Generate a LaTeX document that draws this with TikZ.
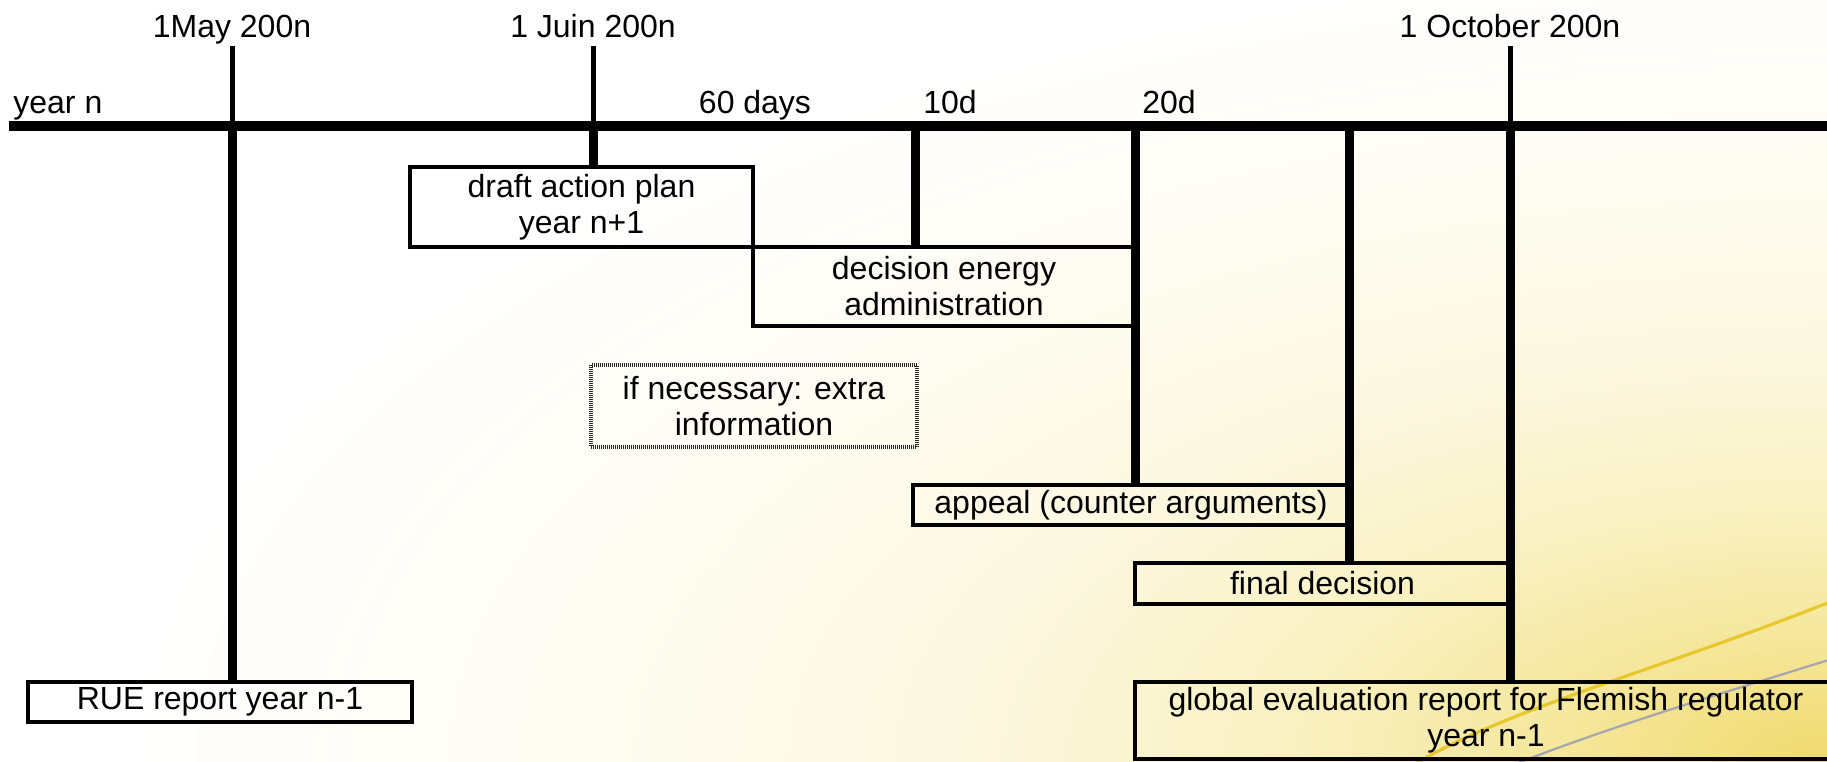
\documentclass[tikz,border=0pt]{standalone}
\usepackage{fontspec}
\setmainfont{Liberation Sans}
\definecolor{yelA}{RGB}{240,218,110}
\definecolor{yelB}{RGB}{245,231,156}
\definecolor{yelC}{RGB}{249,241,194}
\definecolor{yelD}{RGB}{252,248,226}
\definecolor{yelE}{RGB}{254,252,243}
\definecolor{swooshyel}{RGB}{232,200,45}
\definecolor{swooshgrey}{RGB}{165,165,178}
\pgfdeclareradialshading{yglow}{\pgfpoint{0bp}{0bp}}{color(0bp)=(yelA); color(4bp)=(yelB); color(8bp)=(yelC); color(13bp)=(yelD); color(19bp)=(yelE); color(25bp)=(white); color(50bp)=(white)}
\begin{document}
\begin{tikzpicture}[x=0.5pt,y=-0.5pt,
  txt/.style={font=\fontsize{16}{18}\selectfont, inner sep=0pt},
  box/.style={draw, line width=2pt, font=\fontsize{16}{18}\selectfont, align=center, inner sep=0pt},
  dotbox/.style={draw=black!85, line width=1.6pt, dash pattern=on 0.5pt off 0.5pt, font=\fontsize{16}{18}\selectfont, align=center, inner sep=0pt},
  mainline/.style={line width=5pt},
  datetick/.style={line width=2.5pt},
  stem/.style={line width=4.5pt}]
\useasboundingbox (0,0) rectangle (1827,761);
% background
\begin{scope}
\clip (0,0) rectangle (1827,761);
\fill[white] (0,0) rectangle (1827,761);
\shade[shading=yglow] (1827,761) ellipse [x radius=1700, y radius=800];
\draw[swooshyel, line width=1.6pt] (1835,600) .. controls (1660,670) and (1500,710) .. (1405,770);
\draw[swooshgrey, line width=1.1pt] (1835,658) .. controls (1700,700) and (1600,730) .. (1500,770);
\end{scope}

% boxes
\node[box, minimum width=171.5pt, minimum height=40pt] (draft) at (581.5,207) {draft action plan\\year n+1};
\node[box, minimum width=191pt, minimum height=39.5pt] (decision) at (944,286.5) {decision energy\\administration};
\node[dotbox, minimum width=163pt, minimum height=41pt] (extra) at (754,406) {if necessary: extra\\information};
\node[box, minimum width=218pt, minimum height=20pt] (appeal) at (1131,505) {appeal (counter arguments)};
\node[box, minimum width=187.5pt, minimum height=20.5pt] (final) at (1322.5,583.5) {final decision};
\node[box, minimum width=192pt, minimum height=20pt] (rue) at (220,702) {RUE report year n-1};
\node[box, minimum width=351pt, minimum height=38.5pt] (global) at (1486,720.5) {global evaluation report for Flemish regulator\\year n-1};

% main time line
\coordinate (L) at (9,126);
\coordinate (R) at (1827,126);
\coordinate (May) at (232,126);
\coordinate (MayTop) at (232,46);
\coordinate (Juin) at (593,126);
\coordinate (JuinTop) at (593,46);
\coordinate (Oct) at (1510,126);
\coordinate (OctTop) at (1510,46);
\coordinate (Ten) at (915,126);
\coordinate (Twenty) at (1135,126);
\coordinate (Fin) at (1349,126);

\draw[datetick] (MayTop) -- (May);
\draw[datetick] (JuinTop) -- (Juin);
\draw[datetick] (OctTop) -- (Oct);

\draw[stem] (May) -- (May |- rue.north);
\draw[stem] (Juin) -- (Juin |- draft.north);
\draw[stem] (Ten) -- (Ten |- decision.north);
\draw[stem] (Twenty) -- (Twenty |- appeal.north);
\draw[stem] (Fin) -- (Fin |- final.north);
\draw[stem] (Oct) -- (Oct |- global.north);

\draw[mainline] (L) -- (R);

% labels
\node[txt, anchor=base west] (yearn) at (13,113) {year n};
\node[txt, anchor=base] (lMay) at (232,37) {1May 200n};
\node[txt, anchor=base] (lJuin) at (593,37) {1 Juin 200n};
\node[txt, anchor=base] (lOct) at (1510,37) {1 October 200n};
\node[txt, anchor=base] (l60) at (755,113) {60 days};
\node[txt, anchor=base west] (l10) at (923,113) {10d};
\node[txt, anchor=base west] (l20) at (1142,113) {20d};
\end{tikzpicture}
\end{document}
